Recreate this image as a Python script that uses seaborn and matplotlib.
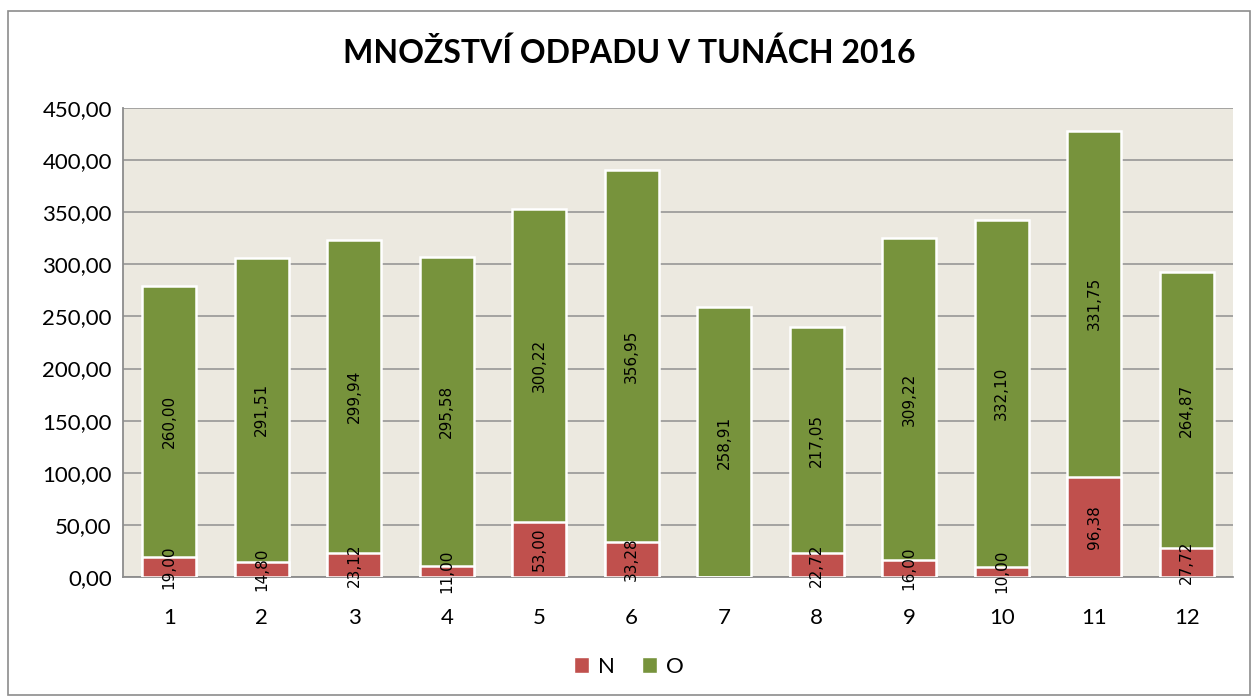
import numpy as np
import pandas as pd
import matplotlib
matplotlib.use("Agg")
import matplotlib.pyplot as plt
from matplotlib.patches import Rectangle, Patch
import seaborn as sns

# data
months = ["1", "2", "3", "4", "5", "6", "7", "8", "9", "10", "11", "12"]
n_vals = [19.00, 14.80, 23.12, 11.00, 53.00, 33.28, 0.00, 22.72, 16.00, 10.00, 96.38, 27.72]
o_vals = [260.00, 291.51, 299.94, 295.58, 300.22, 356.95, 258.91, 217.05, 309.22, 332.10, 331.75, 264.87]

green = "#77933C"
red = "#C0504D"

df = pd.DataFrame({"mesic": months, "N": n_vals, "O": o_vals})
df["total"] = df["N"] + df["O"]

sns.set_theme(style="white")
plt.rcParams["font.family"] = ["Lato", "DejaVu Sans"]
plt.rcParams["text.color"] = "black"
plt.rcParams["xtick.color"] = "black"
plt.rcParams["ytick.color"] = "black"

fig = plt.figure(figsize=(12.58, 6.99), dpi=100)
ax = fig.add_axes([123 / 1258, 1 - 577 / 699, (1233 - 123) / 1258, (577 - 108) / 699])

# outer frame
fig.patches.append(Rectangle((8 / 1258, 4 / 699), 1 - 16 / 1258, 1 - 15 / 699,
                             transform=fig.transFigure, fill=False,
                             edgecolor="#8c8c8c", linewidth=1.2))

ax.set_facecolor("#ECE9E0")
sns.barplot(data=df, x="mesic", y="total", color=green, width=0.58,
            edgecolor="white", linewidth=1.8, saturation=1, ax=ax, zorder=3)
sns.barplot(data=df, x="mesic", y="N", color=red, width=0.58,
            edgecolor="white", linewidth=1.8, saturation=1, ax=ax, zorder=4)

bars = ax.patches
nb = len(months)
for i in range(nb):
    tot_bar = bars[i]
    xc = tot_bar.get_x() + tot_bar.get_width() / 2
    nv = n_vals[i]
    ov = o_vals[i]
    ax.text(xc, nv + ov / 2, f"{ov:.2f}".replace(".", ","), rotation=90,
            ha="center", va="center", fontsize=11, family="DejaVu Sans",
            color="black", zorder=6)
    if nv > 0:
        ax.text(xc, nv / 2, f"{nv:.2f}".replace(".", ","), rotation=90,
                ha="center", va="center", fontsize=11, family="DejaVu Sans",
                color="black", zorder=6, clip_on=False)

ax.set_ylim(0, 450)
ax.set_xlim(-0.5, nb - 0.5)
ax.set_yticks(np.arange(0, 451, 50))
ax.set_yticklabels([f"{v:.2f}".replace(".", ",") for v in np.arange(0, 451, 50)])
ax.yaxis.grid(True, color="#909090", linewidth=1.1, zorder=0)
ax.set_axisbelow(True)
ax.tick_params(axis="y", labelsize=16, length=0, pad=8)
ax.tick_params(axis="x", labelsize=16, length=0, pad=22)
ax.set_xlabel("")
ax.set_ylabel("")
for s in ["top", "right"]:
    ax.spines[s].set_visible(False)
for s in ["left", "bottom"]:
    ax.spines[s].set_color("#8c8c8c")
    ax.spines[s].set_linewidth(1.3)

fig.text(0.5, 1 - 53 / 699, "MNOŽSTVÍ ODPADU V TUNÁCH 2016", ha="center",
         va="center", fontsize=23, fontweight="bold")

handles = [Patch(facecolor=red, label="N"), Patch(facecolor=green, label="O")]
fig.legend(handles=handles, loc="center", bbox_to_anchor=(0.5, 1 - 667 / 699),
           ncol=2, frameon=False, fontsize=16, handlelength=0.7, handleheight=0.7,
           handletextpad=0.4, columnspacing=1.2)

fig.savefig("out.png", dpi=100)
